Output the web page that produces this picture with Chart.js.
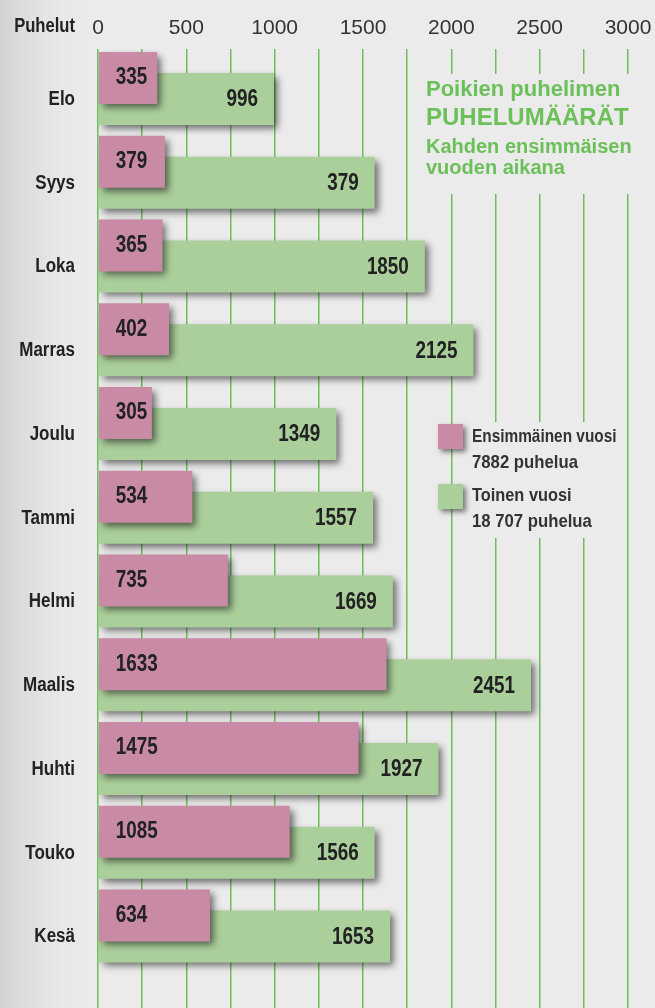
<!DOCTYPE html>
<html>
<head>
<meta charset="utf-8">
<script src="https://cdn.jsdelivr.net/npm/chart.js@4"></script>
<style>
  html, body { margin: 0; padding: 0; background: #ebebeb; }
  #wrap { width: 655px; height: 1008px; }
</style>
</head>
<body>
<div id="wrap"><canvas id="chart" width="655" height="1008"></canvas></div>
<script>
const months = ["Elo", "Syys", "Loka", "Marras", "Joulu", "Tammi", "Helmi", "Maalis", "Huhti", "Touko", "Kesä"];
// first year calls (pink)
const firstYear = [335, 379, 365, 402, 305, 534, 735, 1633, 1475, 1085, 634];
// second year calls (green), bar lengths
const secondYear = [996, 1566, 1850, 2125, 1349, 1557, 1669, 2451, 1927, 1566, 1653];
// numbers printed on the green bars (Syys reads 379 in the original)
const secondYearPrinted = [996, 379, 1850, 2125, 1349, 1557, 1669, 2451, 1927, 1566, 1653];
const xTicks = [0, 500, 1000, 1500, 2000, 2500, 3000];

const PINK = "#c98aa6";
const GREEN = "#abcf9b";
const GRID = "#6cc05a";
const TEXT = "#222222";
const BG = "#ebebeb";
const SANS = "'Liberation Sans', Arial, sans-serif";

// condensed look: Liberation Sans squeezed horizontally
function narrowText(ctx, text, x, y, align, size, sx) {
  ctx.save();
  ctx.translate(x, y);
  ctx.scale(sx, 1);
  ctx.font = "bold " + size + "px " + SANS;
  ctx.textAlign = align;
  ctx.textBaseline = "middle";
  ctx.fillText(text, 0, 0);
  ctx.restore();
}

const backgroundPlugin = {
  id: "background",
  beforeDraw(chart) {
    const ctx = chart.ctx;
    ctx.save();
    ctx.fillStyle = BG;
    ctx.fillRect(0, 0, chart.width, chart.height);
    const g = ctx.createLinearGradient(0, 0, 100, 0);
    g.addColorStop(0, "#d2d2d2");
    g.addColorStop(1, "rgba(235,235,235,0)");
    ctx.fillStyle = g;
    ctx.fillRect(0, 0, 100, chart.height);
    ctx.restore();
  }
};

// title, legend and month names; the boxes cover the grid lines behind them
const panelsPlugin = {
  id: "panels",
  beforeDatasetsDraw(chart) {
    const ctx = chart.ctx;
    ctx.save();
    ctx.fillStyle = BG;
    ctx.fillRect(418, 74, 230, 120);
    ctx.fillRect(468, 422, 154, 116);

    ctx.fillStyle = GRID;
    ctx.textBaseline = "middle";
    ctx.textAlign = "left";
    ctx.font = "bold 22px " + SANS;
    ctx.fillText("Poikien puhelimen", 426, 90);
    ctx.font = "bold 24px " + SANS;
    ctx.fillText("PUHELUMÄÄRÄT", 426, 118);
    ctx.font = "bold 20px " + SANS;
    ctx.fillText("Kahden ensimmäisen", 426, 147);
    ctx.fillText("vuoden aikana", 426, 168);

    ctx.shadowColor = "rgba(0,0,0,0.5)";
    ctx.shadowBlur = 5;
    ctx.shadowOffsetX = 3;
    ctx.shadowOffsetY = 3;
    ctx.fillStyle = PINK;
    ctx.fillRect(438, 424, 25, 25);
    ctx.fillStyle = GREEN;
    ctx.fillRect(438, 484, 25, 25);
    ctx.shadowColor = "transparent";

    ctx.fillStyle = "#333";
    narrowText(ctx, "Ensimmäinen vuosi", 472, 437, "left", 19, 0.81);
    narrowText(ctx, "7882 puhelua", 472, 463, "left", 19, 0.88);
    narrowText(ctx, "Toinen vuosi", 472, 496, "left", 19, 0.86);
    narrowText(ctx, "18 707 puhelua", 472, 522, "left", 19, 0.88);

    ctx.fillStyle = TEXT;
    narrowText(ctx, "Puhelut", 75, 26, "right", 20, 0.83);
    const yScale = chart.scales.y;
    months.forEach((m, i) => {
      narrowText(ctx, m, 75, yScale.getPixelForValue(i) + 11, "right", 20, 0.85);
    });
    ctx.restore();
  }
};

const shadowPlugin = {
  id: "barShadow",
  beforeDatasetDraw(chart) {
    const ctx = chart.ctx;
    ctx.save();
    ctx.shadowColor = "rgba(0,0,0,0.55)";
    ctx.shadowBlur = 7;
    ctx.shadowOffsetX = 4;
    ctx.shadowOffsetY = 4;
  },
  afterDatasetDraw(chart) {
    chart.ctx.restore();
  }
};

const valuesPlugin = {
  id: "barValues",
  afterDatasetsDraw(chart) {
    const ctx = chart.ctx;
    ctx.save();
    ctx.fillStyle = TEXT;
    chart.getDatasetMeta(0).data.forEach((bar, i) => {
      narrowText(ctx, String(firstYear[i]), bar.base + 17, bar.y, "left", 23, 0.82);
    });
    chart.getDatasetMeta(1).data.forEach((bar, i) => {
      narrowText(ctx, String(secondYearPrinted[i]), bar.x - 16, bar.y + 1, "right", 23, 0.82);
    });
    ctx.restore();
  }
};

new Chart(document.getElementById("chart"), {
  type: "bar",
  data: {
    datasets: [
      {
        label: "Ensimmäinen vuosi",
        data: firstYear.map((v, i) => ({ x: v, y: i })),
        backgroundColor: PINK,
        borderWidth: 0
      },
      {
        label: "Toinen vuosi",
        data: secondYear.map((v, i) => ({ x: v, y: i })),
        backgroundColor: GREEN,
        borderWidth: 0
      }
    ]
  },
  options: {
    indexAxis: "y",
    responsive: false,
    animation: false,
    categoryPercentage: 0.5015,
    barPercentage: 2.476,
    layout: { padding: { top: 0, right: 27, bottom: 0, left: 0 } },
    scales: {
      x: {
        position: "top",
        min: 0,
        max: 3000,
        border: { display: false },
        grid: { color: GRID, lineWidth: 1.5, drawTicks: false },
        ticks: {
          stepSize: 250,
          maxTicksLimit: 20,
          autoSkip: false,
          minRotation: 0,
          maxRotation: 0,
          padding: 8,
          color: "#333",
          font: { family: SANS, size: 21 },
          callback: (v) => (xTicks.includes(v) ? String(v) : "")
        },
        afterFit: (s) => { s.height = 49; s.paddingLeft = 0; s.paddingRight = 0; }
      },
      y: {
        type: "linear",
        reverse: true,
        offset: false,
        min: -0.4716,
        max: 10.98,
        border: { display: false },
        grid: { display: false, drawTicks: false },
        ticks: {
          display: false,
          stepSize: 1,
          maxTicksLimit: 20,
          includeBounds: false,
          autoSkip: false
        },
        afterFit: (s) => { s.width = 98; s.paddingTop = 0; s.paddingBottom = 0; }
      }
    },
    plugins: {
      legend: { display: false },
      tooltip: { enabled: false }
    }
  },
  plugins: [backgroundPlugin, shadowPlugin, panelsPlugin, valuesPlugin]
});
</script>
</body>
</html>
